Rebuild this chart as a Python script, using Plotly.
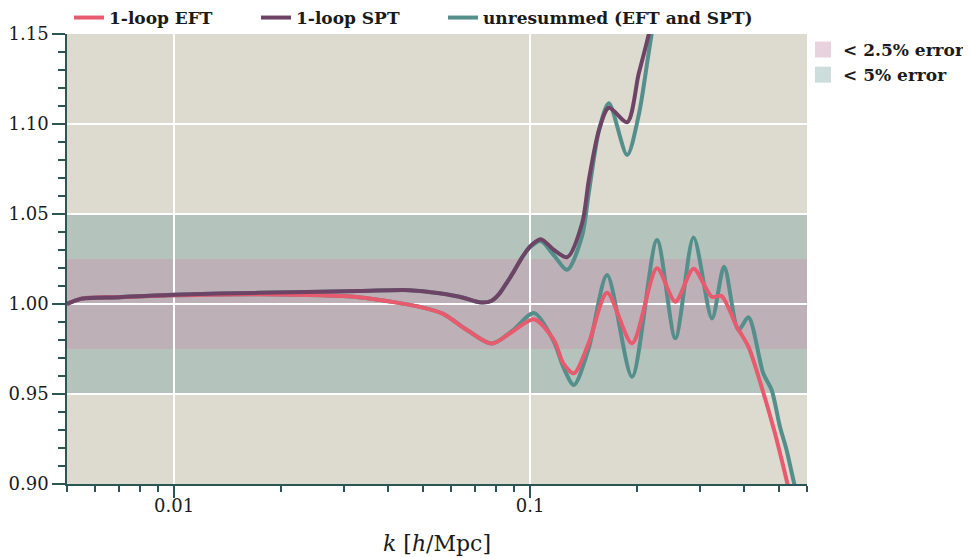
import plotly.graph_objects as go

# ---- data ----
k_eft = [0.005, 0.0055, 0.007, 0.01, 0.0174, 0.033, 0.043, 0.05, 0.057, 0.066, 0.078, 0.089,
         0.1026, 0.1167, 0.124, 0.1328, 0.146, 0.1646, 0.1934, 0.2273, 0.256, 0.288, 0.324,
         0.345, 0.381, 0.4107, 0.4472, 0.4879, 0.5257, 0.567]
eft = [1.000, 1.003, 1.0038, 1.0048, 1.0054, 1.0038, 1.0005, 0.998, 0.9945, 0.986, 0.978, 0.9845,
       0.9915, 0.980, 0.967, 0.9615, 0.978, 1.0063, 0.9782, 1.0198, 1.0013, 1.0196, 1.004,
       1.0044, 0.9874, 0.9763, 0.954, 0.928, 0.9022, 0.875]

k_spt = [0.005, 0.0055, 0.007, 0.01, 0.0174, 0.033, 0.0458, 0.0556, 0.065, 0.070, 0.0735, 0.078,
         0.0818, 0.0855, 0.09, 0.0951, 0.1, 0.1072, 0.1167, 0.1272, 0.1401, 0.1463, 0.1564, 0.1665,
         0.1874, 0.202, 0.2156, 0.23]
spt = [1.000, 1.003, 1.0038, 1.0052, 1.0062, 1.0072, 1.0077, 1.006, 1.0035, 1.0015, 1.0008, 1.0018,
       1.0055, 1.011, 1.018, 1.026, 1.032, 1.036, 1.030, 1.026, 1.045, 1.069, 1.097, 1.109,
       1.101, 1.128, 1.15, 1.18]

k_un_eft = [0.005, 0.0055, 0.007, 0.01, 0.0174, 0.033, 0.043, 0.05, 0.057, 0.066, 0.078, 0.089,
            0.1026, 0.1167, 0.124, 0.1328, 0.146, 0.1646, 0.1934, 0.2273, 0.256, 0.288, 0.3245,
            0.351, 0.385, 0.4107, 0.452, 0.4773, 0.5037, 0.5257, 0.555, 0.58]
un_eft = [1.000, 1.003, 1.0038, 1.0048, 1.0054, 1.0038, 1.0005, 0.998, 0.9945, 0.986, 0.978, 0.985,
          0.995, 0.979, 0.965, 0.955, 0.975, 1.0161, 0.9596, 1.0356, 0.981, 1.037, 0.992,
          1.0207, 0.9856, 0.9926, 0.9615, 0.9522, 0.9318, 0.9189, 0.8985, 0.885]

k_un_spt = [0.005, 0.0055, 0.007, 0.01, 0.0174, 0.033, 0.0458, 0.0556, 0.065, 0.070, 0.0735, 0.078,
            0.0818, 0.0855, 0.09, 0.0951, 0.1, 0.1072, 0.1167, 0.1272, 0.1401, 0.1463, 0.1564,
            0.1665, 0.1874, 0.202, 0.2156, 0.23]
un_spt = [1.000, 1.003, 1.0038, 1.0052, 1.0062, 1.0072, 1.0077, 1.006, 1.0035, 1.0015, 1.0008, 1.0018,
          1.0055, 1.011, 1.018, 1.026, 1.0315, 1.035, 1.027, 1.019, 1.038, 1.062, 1.097,
          1.1115, 1.0828, 1.105, 1.14, 1.175]

band_labels = ["< 2.5% error", "< 5% error"]
band_limits = [0.025, 0.05]

x_minor = [0.005, 0.006, 0.007, 0.008, 0.009, 0.02, 0.03, 0.04, 0.05, 0.06, 0.07, 0.08, 0.09,
           0.2, 0.3, 0.4, 0.5, 0.6]
x_major = [0.01, 0.1]
x_major_text = ["0.01", "0.1"]

# ---- style ----
C_EFT = "#e85a6e"
C_SPT = "#6e4466"
C_UN = "#558f8c"
BAND_PINK = "rgba(201,150,178,0.43)"
BAND_TEAL = "rgba(85,143,140,0.30)"
AX = "#2a5656"
FONT = "DejaVu Serif"
W, H = 963, 550   # page body has an 8px margin in the 971x558 window
LW = 4

fig = go.Figure()
fig.add_trace(go.Scatter(x=k_un_eft, y=un_eft, mode="lines", name="unresummed (EFT and SPT)",
                         line=dict(color=C_UN, width=LW, shape="spline", smoothing=0.8),
                         legend="legend4"))
fig.add_trace(go.Scatter(x=k_un_spt, y=un_spt, mode="lines", name="unresummed (EFT and SPT)",
                         line=dict(color=C_UN, width=LW, shape="spline", smoothing=0.8),
                         legend="legend4", showlegend=False))
fig.add_trace(go.Scatter(x=k_eft, y=eft, mode="lines", name="1-loop EFT",
                         line=dict(color=C_EFT, width=LW, shape="spline", smoothing=0.8),
                         legend="legend"))
fig.add_trace(go.Scatter(x=k_spt, y=spt, mode="lines", name="1-loop SPT",
                         line=dict(color=C_SPT, width=LW, shape="spline", smoothing=0.8),
                         legend="legend3"))

for lab, col in zip(band_labels, [BAND_PINK, BAND_TEAL]):
    fig.add_trace(go.Scatter(x=[None], y=[None], mode="markers", name=lab, legend="legend2",
                             marker=dict(symbol="square", size=16, color=col)))

for lim, col in zip(band_limits[::-1], [BAND_TEAL, BAND_PINK]):
    fig.add_shape(type="rect", xref="paper", yref="y", x0=0, x1=1, y0=1 - lim, y1=1 + lim,
                  fillcolor=col, line=dict(width=0), layer="between")

legfont = dict(family=FONT, size=17, weight="bold", color="#1a1a1a")


def top_legend(xpx):
    return dict(orientation="h", xref="container", yref="container",
                x=xpx / W, xanchor="left", y=1 - 10 / H, yanchor="middle",
                font=legfont, bgcolor="rgba(0,0,0,0)")


fig.update_layout(
    width=W, height=H,
    margin=dict(l=59, r=164, t=26, b=74, autoexpand=False),
    paper_bgcolor="white", plot_bgcolor="#dddad0",
    font=dict(family=FONT, size=18, color="#1a1a1a"),
    showlegend=True,
    legend=top_legend(61),
    legend3=top_legend(248),
    legend4=top_legend(435),
    legend2=dict(orientation="v", xref="container", yref="container",
                 x=795 / W, xanchor="left", y=1 - 24 / H, yanchor="top",
                 font=legfont, bgcolor="rgba(0,0,0,0)", tracegroupgap=0),
)

fig.update_xaxes(type="log", range=[-2.30103, -0.221849], automargin=False,
                 tickmode="array", tickvals=x_major, ticktext=x_major_text,
                 ticks="outside", ticklen=12, tickcolor=AX, tickwidth=1.5,
                 ticklabelstandoff=-7,
                 showline=True, linecolor=AX, linewidth=1.5,
                 showgrid=True, gridcolor="white", gridwidth=1.5, zeroline=False,
                 minor=dict(tickmode="array", tickvals=x_minor, ticks="outside", ticklen=6,
                            tickcolor=AX, tickwidth=1.5, showgrid=False),
                 title=dict(text="<i>k</i> [<i>h</i>/Mpc]", standoff=20),
                 tickfont=dict(size=18))

fig.update_yaxes(range=[0.90, 1.15], dtick=0.05, tick0=0.9, tickformat=".2f", automargin=False,
                 ticks="outside", ticklen=13, tickcolor=AX, tickwidth=1.5,
                 showline=True, linecolor=AX, linewidth=1.5,
                 showgrid=True, gridcolor="white", gridwidth=1.5, zeroline=False,
                 minor=dict(dtick=0.01, ticks="outside", ticklen=7, tickcolor=AX,
                            tickwidth=1.5, showgrid=False),
                 tickfont=dict(size=18))

fig.write_html("out.html")
